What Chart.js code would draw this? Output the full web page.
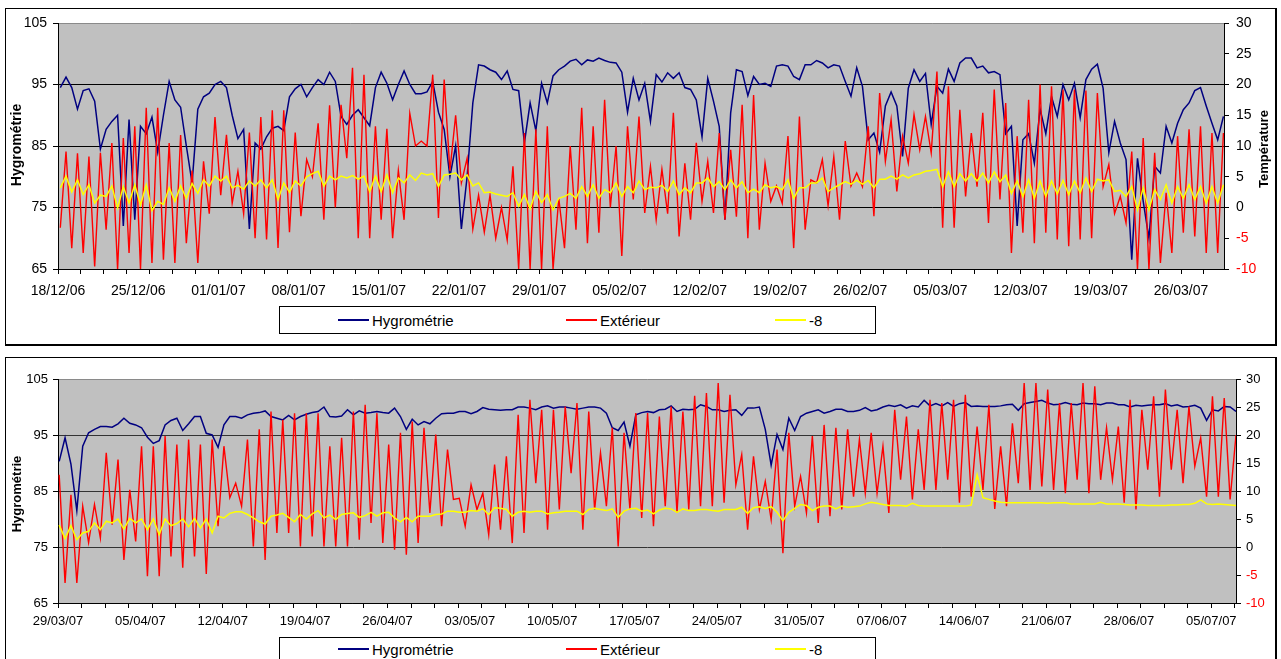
<!DOCTYPE html>
<html>
<head>
<meta charset="utf-8">
<title>Hygrométrie et températures</title>
<script src="https://cdn.jsdelivr.net/npm/chart.js@4.4.1/dist/chart.umd.min.js"></script>
<style>
  html, body { margin: 0; padding: 0; background: #fff; width: 1281px; height: 659px; overflow: hidden; }
  body { position: relative; font-family: 'Liberation Sans', Arial, Helvetica, sans-serif; }
  .panel { position: absolute; left: 5px; width: 1272px; box-sizing: border-box;
           border: 1px solid #000; border-right-width: 2px; border-bottom-width: 2px; }
  #panelTop { top: 8px; height: 338px; }
  #panelBottom { top: 357px; height: 330px; }
  canvas { position: absolute; left: 0; }
  #chartTop { top: 0; }
  #chartBottom { top: 350px; }
  .legend { position: absolute; left: 279px; width: 597px; height: 28px; box-sizing: border-box;
            border: 1px solid #000; background: #fff; font-size: 15px; color: #000; }
  #legendTop { top: 306px; }
  #legendBottom { top: 637px; height: 40px; }
  .legend .item { position: absolute; top: 0; height: 26px; display: flex; align-items: center; white-space: nowrap; }
  #legendBottom .item { height: 22px; }
  .legend .swatch { display: inline-block; width: 31px; height: 2px; margin-right: 3px; }
</style>
</head>
<body>
<div class="panel" id="panelTop"></div>
<div class="panel" id="panelBottom"></div>
<canvas id="chartTop" width="1281" height="300"></canvas>
<canvas id="chartBottom" width="1281" height="309"></canvas>
<div class="legend" id="legendTop"></div>
<div class="legend" id="legendBottom"></div>

<script>
// Two readings per day (night / afternoon), starting on the first date of each period.
// Winter period: from 18/12/06, readings at day + 0.2 and day + 0.7.
const hygroTop = [
  94.5,96.2, 94.5,91, 94,94.3, 92.3,84.5, 87.7,89, 90,72, 89.3,73, 88.2,87, 89.7,84, 90,95.5,
  92.5,91.3, 85,79, 91,93, 93.6,95, 95.5,94.5, 90,86.2, 87.7,71.5, 85.5,84.5, 86.5,87.9, 88.2,87.5,
  93,94.3, 95,93, 94.5,95.8, 95,97, 95.5,89.8, 88.5,90, 90.9,89.6, 88.3,94.5, 97,95.2, 92.5,95,
  97.2,95, 93.5,93.5, 93.8,95.5, 90.5,87.7, 80,85, 71.5,80, 92,98.2, 98,97.4, 97,95.8, 97.2,94.2,
  94,85.5, 92,87.5, 95.2,92, 96.4,97.4, 98,98.8, 99.1,98.2, 99,98.8, 99.3,98.9, 98.6,98.5, 97,90.5,
  96,92.5, 95.2,89, 96.6,95.4, 96.9,96, 96.9,94.5, 94.2,92.5, 86.5,96, 92.3,88.2, 73,90.4, 97.4,97.1,
  93.2,96.3, 95,95.2, 94.7,98, 98.2,98, 96.3,95.8, 98.2,98.2, 98.9,98.5, 97.7,98.2, 98,95.5, 93.1,97.7,
  94.7,86, 87.1,84, 91.5,93.8, 91.5,83.3, 94.4,97.4, 95.5,96.8, 88.5,94.7, 93.6,97.5, 95.5,98.5, 99.3,99.3,
  97.7,98, 96.9,97.1, 96.6,87, 88.2,72, 86,87, 82.2,91, 87,93, 89.8,95, 92.5,95.2, 89.6,95.8,
  97.5,98.3, 94.4,83.9, 89,85.5, 82.8,66.5, 83,76, 70,81.7, 80.6,88.2, 85.5,88.7, 90.9,92, 94,94.5,
  91.5,88.7, 86,89.8
];
const exterieurTop = [
  -3.3,9.1, -6.6,8.8, -7.4,8.3, -9.6,8.9, -3.6,10.5, -10,11.3, -7.4,13.2, -10,16.2, -9,16.2, -8.5,10.5,
  -9,11.8, -5.8,6, -9,7.5, -1,14.7, 2,11.8, 0.7,5.9, -1,12.2, -5,14.7, -5.2,15.8, -6.6,15.8,
  -4,12.2, -1.4,7.8, 5,13.7, -2,16.6, 0,16.7, 8,22.7, -5,21.6, -5,13.2, -2,12.8, -5,6,
  -2,15.3, 10,10.8, 10,21.6, -1.7,20.8, 6,15, 4,8, -3.5,2, -4,2, -5,0, -5.3,6.7,
  -10,12.1, -10,12.7, -10,13.2, -10,1.5, -6.6,10, -3.6,16.2, -5.8,13.2, -4.1,17.5, 0,10, -7.9,13.2,
  1.3,14.8, -0.9,6.7, -2,6.2, -1,15.4, -4.7,7.2, -2,10.5, 1,7.5, -0.9,12.1, -2,9.4, -1.5,16.7,
  -5,18.3, -3.6,7.2, 1,3.5, 0.7,11.6, -6.6,14.8, -3.6,4.5, 4,7.8, 0.3,8.3, -2,10.8, 3.5,5.6,
  3.4,13.2, -1.4,18.6, 7.5,14.3, 2.6,11.6, 7.2,15.1, 9.4,14.8, 8.9,22.1, -3.3,19.7, -3.3,15.9, 1.8,12.1,
  3.4,15.4, -2.5,19.2, 1.3,17, -7.4,11.6, -4.1,17.5, -5.8,20, -4.1,19.7, -5.2,19.2, -6.3,19.2, -5.2,19,
  -5,18.6, 3.4,7, -1,1.8, -2.5,9.1, -10,11.3, -10,8.9, -9,2.4, -7.4,11.6, -4.1,12.7, -4.7,13.2,
  -7.4,12.1, -7.4,12.1
];
const moins8Top = [
  3.2,5.1, 2.5,4.5, 2.1,3.7, 0.7,2, 1.8,3.5, -0.1,3.4, 0.7,3.7, 0.4,3.7, -0.5,1, 0.5,3.2,
  1,3.5, 1.5,3.9, 2.3,4.5, 3.5,5.1, 4.3,5.1, 3.2,3.6, 3,4.3, 3.5,4.5, 3.2,4.5, 1.3,4,
  2.5,4.3, 3.5,5, 5.5,5.9, 3.5,5.1, 4.5,5.1, 4.8,5.2, 4.6,5.1, 2.6,5.1, 2.6,5.3, 2.4,4.8,
  4,5.3, 4.4,5.6, 5.3,5.5, 3.4,5.3, 5.4,5.6, 4.5,5.3, 3.5,4, 2.4,2.5, 2.2,2, 1.8,2.4,
  0.2,2.1, -0.2,2.6, 0.8,2.1, -0.4,1.5, 1.8,2.3, 1.5,3.4, 1.8,3.7, 1.5,2.9, 2.4,4, 1.8,3.4,
  2.4,4.3, 2.9,3.3, 3.2,3.6, 2.6,4.3, 2.1,3.2, 2.4,4, 4,4.8, 3.4,4.2, 2.9,4.5, 3.2,4.2,
  2.4,3, 2.4,3.7, 3.2,3.4, 2.9,4.5, 1.5,3.2, 3.2,4, 4,4.8, 2.6,3.2, 3.7,4.2, 3.8,4.4,
  3.8,4.4, 3.2,4.6, 4.6,5.1, 4.6,5.3, 4.8,5.3, 5.5,5.9, 6,6.2, 3.4,5.8, 3.4,5.5, 4.3,5.5,
  4.3,5.6, 4,5.8, 4.2,5.3, 2.3,4.3, 1.8,4.5, 1.5,4.3, 1.8,4.3, 2.2,4.4, 2.1,4.3, 2.4,4.8,
  2.6,4.6, 4.3,4.5, 2.6,2.8, 1.8,3.4, -0.4,3.2, -0.4,2.9, 1.3,3.7, 0.7,3.4, 1.5,3.7, 1.3,3.4,
  0.7,3.4, 0.7,3.7
];

// Spring / summer period: from 29/03/07, readings at day + 0.1 and day + 0.6.
const hygroBottom = [
  90.3,94.5, 89.8,81.5, 93,95.4, 96,96.5, 96.5,96.4, 97,98, 97.1,96.8, 96.3,94.6, 93.5,94, 96.8,97.6,
  98,95.8, 97,98.3, 98.3,95.3, 95,92.8, 96.8,98.3, 98.3,98, 98.6,98.9, 99,99.3, 98.3,98, 97.7,98.5,
  97.7,98.3, 98.7,99, 99.2,100, 98.3,98.2, 98.4,99.5, 98.6,99.3, 98.9,99, 99.2,99, 98.9,99.8, 98.3,96,
  97.8,96.8, 97.4,97, 98,98.8, 98.9,98.9, 99.2,99.2, 98.8,99.2, 99.9,99.6, 99.5,99.4, 99.5,99.5, 100,100,
  99.8,99.5, 100,100.2, 99.8,100, 100,99.8, 99.6,99.8, 100,100, 99.8,98.9, 96.3,95.8, 97.3,93, 98.6,99,
  99.2,99, 99.5,99.6, 100.2,99.2, 99.6,99.5, 99.6,100.4, 100.1,99.5, 99.5,99.2, 99.4,99.5, 98.5,99.8, 99.8,100,
  96,89.6, 95.1,92.4, 98,95.8, 98.3,98.9, 99.2,99.5, 98.9,99.2, 99.6,99.6, 99.2,99.2, 99.4,99.9, 99.3,99.5,
  100,100.3, 100.1,100.4, 99.8,100.2, 100,101.2, 100.2,100.6, 100.2,100.8, 100.1,100.6, 100.8,100.1, 100.2,100.1, 100.1,100.1,
  100.2,100.4, 100.5,99.4, 100.6,100.8, 101,101.2, 100.7,100.4, 100.5,100.8, 100.5,100.4, 100.7,100.6, 100.6,100.4, 100.7,100.7,
  100.4,100.4, 100,100.3, 100.2,100.3, 100.4,100.4, 100.6,100.2, 100.4,100, 100.1,100.3, 99.8,97.6, 99.5,99.3, 100.1,100,
  99.2
];
const exterieurBottom = [
  12.9,-6.4, 9.3,-6.4, 7.3,0.8, 7.6,1.6, 16.8,4, 15.6,-2.3, 10.2,1, 18,-5.2, 18,-5.2, 19.8,-1.7,
  18.3,-3.7, 19.2,-1.7, 18.3,-4.8, 19.2,3.7, 18,8.8, 11.4,7.3, 19.2,0.1, 21,-2.3, 24.2,2.5, 22.7,2.5,
  23.9,0.1, 23.9,1.9, 23.9,0.1, 18,0.1, 19.5,0.1, 24.2,1.3, 25.4,4.3, 23.9,0.7, 18.3,-0.5, 20.4,-1.4,
  22.4,0.7, 21.3,6.1, 20.1,3.7, 17.4,8.5, 8.7,3.7, 11.1,6.7, 9.6,2.2, 14.7,3.1, 16.2,0.7, 23.6,2.5,
  26.3,11.4, 24.5,3.1, 24.5,6.7, 25.1,13.2, 25.7,3.1, 24.2,6.7, 16.8,7.3, 21.3,0.1, 20.4,6.7, 23.9,5.2,
  23.9,3.7, 23.3,7.3, 25.1,6.1, 24.2,6.7, 27,7.3, 27.5,7.3, 29.3,7.9, 27.2,11.1, 16.5,3.1, 16.2,6.7,
  11.7,4.9, 17.4,-1.1, 20.4,7.3, 12.6,6.1, 19.8,4.3, 21.8,5.5, 21.3,6.7, 21,9, 19.2,9.6, 20.4,9.6,
  18,6.1, 24.5,12, 23.3,8.5, 21,10.2, 26.3,10.2, 25.7,12, 26.3,7.9, 27.2,9, 21.5,10.2, 25.4,6.8,
  18,7.3, 22.1,11.4, 29.3,10.2, 29.3,10.8, 28.1,10.2, 25.7,9.6, 25.7,12, 29.3,9.6, 28.7,12, 21.3,12,
  21.5,7.9, 26.3,6.7, 24.5,13.8, 26.9,9, 28.1,13.8, 24.5,11.4, 25.1,14.4, 19.5,9, 26.9,9, 26.6,8.5,
  20
];
const moins8Bottom = [
  3.9,1.5, 3.8,1.3, 2.5,2.8, 4.3,3.1, 4.6,4.3, 5,3.2, 5.1,4.3, 5,3.1, 5,2.2, 5,3.8,
  4.2,5, 3.6,5.1, 3.4,5, 2.5,5.5, 5.2,6, 6.3,6.3, 5.8,5.2, 4.5,4.1, 5.5,5.7, 6,5.3,
  4.5,5.8, 5,5.9, 6.5,5.2, 5.7,4.9, 5.8,6, 6.1,5.3, 5.6,6.2, 5.5,6.1, 6.2,5.2, 4.5,5.3,
  4.5,5.5, 5.5,5.5, 5.8,5.9, 6.4,6.4, 6.2,6.2, 6.5,6.4, 6.8,5.8, 7,6.9, 6.7,5.5, 6.2,6.4,
  6.2,6.4, 6.4,5.9, 6.1,6.2, 6.4,6.4, 6.4,5.8, 6.7,6.9, 6.7,6.5, 6.8,5.3, 6.4,6.8, 6.9,6.4,
  6.6,5.9, 6.6,6.9, 6.8,6.2, 6.8,6.5, 6.5,6.7, 6.7,6.5, 6.4,6.7, 6.7,6.7, 7.1,6, 7,7.2,
  6.9,7.2, 6.2,4.7, 6.2,6.9, 7.6,7.4, 6.5,7.1, 7.3,7.3, 6.8,7.3, 7.1,7.2, 7.3,7.7, 8,7.8,
  7.6,7.4, 7.4,7.4, 7.3,7.8, 7.4,7.3, 7.3,7.3, 7.3,7.3, 7.3,7.3, 7.3,7.5, 12.9,8.8, 8.5,8.2,
  8,7.9, 7.9,7.9, 7.9,7.9, 7.9,7.9, 7.8,7.9, 7.9,7.9, 7.7,7.7, 7.7,7.7, 7.7,8, 7.7,7.7,
  7.7,7.6, 7.5,7.5, 7.5,7.4, 7.4,7.4, 7.4,7.5, 7.5,7.6, 7.6,7.8, 8.4,7.7, 7.6,7.7, 7.6,7.5,
  7.4
];

// Weekly date labels (one every 7 days) and axis ranges.
const datesTop = ['18/12/06','25/12/06','01/01/07','08/01/07','15/01/07','22/01/07','29/01/07','05/02/07',
                  '12/02/07','19/02/07','26/02/07','05/03/07','12/03/07','19/03/07','26/03/07'];
const datesBottom = ['29/03/07','05/04/07','12/04/07','19/04/07','26/04/07','03/05/07','10/05/07','17/05/07',
                     '24/05/07','31/05/07','07/06/07','14/06/07','21/06/07','28/06/07','05/07/07'];
const hygroTicks = [65, 75, 85, 95, 105];
const tempTicks = [-10, -5, 0, 5, 10, 15, 20, 25, 30];

const legendItems = [
  { label: 'Hygrométrie', color: '#000080', left: 58 },
  { label: 'Extérieur', color: '#ff0000', left: 286 },
  { label: '-8', color: '#ffff00', left: 495 }
];

const FONT = "'Liberation Sans', Arial, Helvetica, sans-serif";

function series(values, start) {
  return values.map((v, i) => ({ x: start + i * 0.5, y: v }));
}

// Grey plot area behind the grid.
const plotBackground = {
  id: 'plotBackground',
  beforeDraw(chart) {
    const { ctx, chartArea: a } = chart;
    ctx.save();
    ctx.fillStyle = '#c0c0c0';
    ctx.fillRect(a.left, a.top, a.right - a.left, a.bottom - a.top);
    ctx.restore();
  }
};

// Vertical axis titles, both reading bottom-to-top.
const axisTitles = {
  id: 'axisTitles',
  afterDraw(chart, args, opts) {
    const ctx = chart.ctx;
    (opts.items || []).forEach(t => {
      ctx.save();
      ctx.translate(t.x, t.y);
      ctx.rotate(-Math.PI / 2);
      ctx.font = 'bold ' + t.size + 'px ' + FONT;
      ctx.fillStyle = '#000';
      ctx.textAlign = 'center';
      ctx.textBaseline = 'middle';
      ctx.fillText(t.text, 0, 0);
      ctx.restore();
    });
  }
};

function buildChart(id, o) {
  const font = { family: FONT, size: o.fontSize };
  return new Chart(document.getElementById(id), {
    type: 'line',
    data: {
      datasets: [
        { label: 'Hygrométrie', data: series(o.hygro, o.start), yAxisID: 'yH',
          borderColor: '#000080', borderWidth: 1.5, pointRadius: 0, order: 2 },
        { label: 'Extérieur', data: series(o.ext, o.start), yAxisID: 'yT',
          borderColor: '#ff0000', borderWidth: 1.4, pointRadius: 0, order: 1 },
        { label: '-8', data: series(o.m8, o.start), yAxisID: 'yT',
          borderColor: '#ffff00', borderWidth: 1.5, pointRadius: 0, order: 0 }
      ]
    },
    options: {
      responsive: false,
      animation: false,
      events: [],
      layout: { padding: { top: o.top, left: 0, right: 0, bottom: 0 } },
      plugins: {
        legend: { display: false },
        tooltip: { enabled: false },
        axisTitles: { items: o.titles }
      },
      scales: {
        x: {
          type: 'linear', min: 0, max: o.xMax,
          afterBuildTicks: s => {
            const t = [];
            for (let d = 0; d <= o.xMax; d++) if (d % 2 === 0 || d % 7 === 0) t.push({ value: d });
            s.ticks = t;
          },
          afterFit: s => { s.height = o.xHeight; },
          grid: {
            drawOnChartArea: false, drawTicks: true, tickLength: 5, lineWidth: 1,
            tickColor: c => (c.tick && c.tick.value % 2 === 0) ? '#000' : 'rgba(0,0,0,0)'
          },
          border: { display: true, color: '#000', width: 1 },
          ticks: {
            autoSkip: false, maxRotation: 0, minRotation: 0, padding: o.xPad, color: '#000', font,
            callback: v => (v % 7 === 0 && o.dates[v / 7]) ? o.dates[v / 7] : ''
          }
        },
        yH: {
          type: 'linear', position: 'left', min: 65, max: 105,
          afterBuildTicks: s => { s.ticks = hygroTicks.map(v => ({ value: v })); },
          afterFit: s => { s.width = 58; },
          grid: {
            lineWidth: 1, tickLength: 5, tickColor: '#000',
            color: c => (c.tick && c.tick.value === 105) ? '#8a8a8a' : o.gridColor
          },
          border: { display: true, color: '#000', width: 1 },
          ticks: { padding: o.leftPad, color: '#000', font }
        },
        yT: {
          type: 'linear', position: 'right', min: -10, max: 30,
          afterBuildTicks: s => { s.ticks = tempTicks.map(v => ({ value: v })); },
          afterFit: s => { s.width = o.rightWidth; },
          grid: { drawOnChartArea: false, tickLength: 5, tickColor: '#000', lineWidth: 1 },
          border: { display: true, color: '#000', width: 1 },
          ticks: {
            padding: o.rightPad, font,
            color: c => (c.tick && c.tick.value < 0) ? '#ff0000' : '#000'
          }
        }
      }
    },
    plugins: [plotBackground, axisTitles]
  });
}

buildChart('chartTop', {
  hygro: hygroTop, ext: exterieurTop, m8: moins8Top, start: 0.2,
  dates: datesTop, xMax: 101.75, top: 23, xHeight: 31, xPad: 9,
  rightWidth: 57, leftPad: 6, rightPad: 7, fontSize: 14, gridColor: '#000',
  titles: [
    { text: 'Hygrométrie', x: 17, y: 145, size: 14 },
    { text: 'Température', x: 1264, y: 149, size: 13 }
  ]
});

buildChart('chartBottom', {
  hygro: hygroBottom, ext: exterieurBottom, m8: moins8Bottom, start: 0.1,
  dates: datesBottom, xMax: 100.1, top: 29, xHeight: 56, xPad: 6,
  rightWidth: 45, leftPad: 5, rightPad: 5, fontSize: 13, gridColor: '#333',
  titles: [
    { text: 'Hygrométrie', x: 17, y: 144, size: 13 }
  ]
});

// Legends under each chart.
['legendTop', 'legendBottom'].forEach(id => {
  const box = document.getElementById(id);
  legendItems.forEach(it => {
    const item = document.createElement('div');
    item.className = 'item';
    item.style.left = it.left + 'px';
    const sw = document.createElement('span');
    sw.className = 'swatch';
    sw.style.backgroundColor = it.color;
    item.appendChild(sw);
    item.appendChild(document.createTextNode(it.label));
    box.appendChild(item);
  });
});
</script>
</body>
</html>
